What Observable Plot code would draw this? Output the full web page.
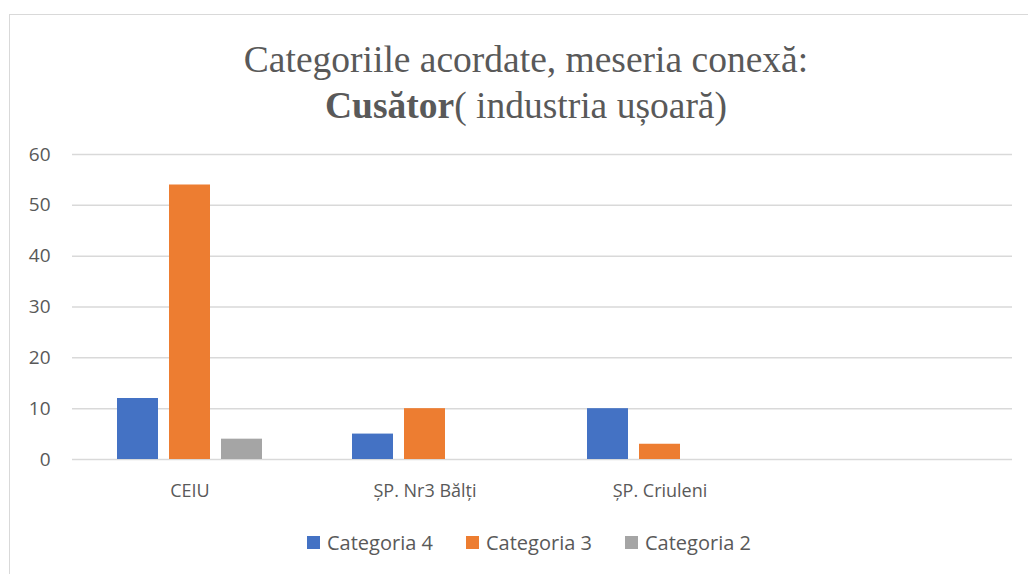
<!DOCTYPE html>
<html>
<head>
<meta charset="utf-8">
<script src="https://cdn.jsdelivr.net/npm/d3@7"></script>
<script src="https://cdn.jsdelivr.net/npm/@observablehq/plot@0.6"></script>
<style>
  html, body { margin: 0; padding: 0; background: #fff; }
  body { width: 1028px; height: 574px; position: relative; overflow: hidden; font-family: "Open Sans", sans-serif; }
  #frame { position: absolute; left: 9px; top: 14px; width: 1030px; height: 570px; border-top: 1.5px solid #d9d9d9; border-left: 1.5px solid #d9d9d9; }
  #title { position: absolute; left: 0; top: 37px; width: 1052px; text-align: center; font-family: "Liberation Serif", "Times New Roman", serif; font-size: 37.5px; line-height: 46px; color: #595959; }
  #chart { position: absolute; left: 0; top: 130px; }
  #legend { position: absolute; left: 307px; top: 529px; display: flex; gap: 0; font-size: 20px; color: #595959; }
  .item { display: flex; align-items: center; width: 159px; white-space: nowrap; }
  .sw { width: 13px; height: 13px; margin-right: 7px; flex: none; }
</style>
</head>
<body>
<div id="frame"></div>
<div id="title">Categoriile acordate, meseria conexă:<br><b>Cusător</b>( industria ușoară)</div>
<div id="chart"></div>
<div id="legend"></div>
<script>
const categories = ["CEIU", "ȘP. Nr3 Bălți", "ȘP. Criuleni", " "];
const series = ["Categoria 4", "Categoria 3", "Categoria 2"];
const categoria4 = [12, 5, 10, null];
const categoria3 = [54, 10, 3, null];
const categoria2 = [4, 0, 0, null];
const colors = ["#4472C4", "#ED7D31", "#A5A5A5"];
const yTicks = [0, 10, 20, 30, 40, 50, 60];

const seriesValues = [categoria4, categoria3, categoria2];
const data = [];
categories.forEach((c, i) => {
  series.forEach((s, j) => {
    const v = seriesValues[j][i];
    if (v != null) data.push({cat: c, series: s, value: v});
  });
});
const gridData = categories.flatMap(c => yTicks.map(t => ({cat: c, tick: t})));

const plot = Plot.plot({
  width: 1028,
  height: 380,
  marginLeft: 72,
  marginRight: 16,
  marginTop: 24,
  marginBottom: 51,
  style: {fontFamily: "Open Sans, sans-serif", color: "#595959", background: "transparent"},
  fx: {domain: categories, padding: 0, label: null, axis: null},
  x: {domain: series, paddingInner: 0.2075, paddingOuter: 0.821, axis: null},
  y: {domain: [0, 60], label: null, axis: null},
  color: {domain: series, range: colors},
  marks: [
    Plot.ruleY(gridData, {fx: "cat", y: "tick", stroke: "#d9d9d9", strokeWidth: 1.5}),
    Plot.axisY(yTicks, {tickSize: 0, tickPadding: 22, fontSize: 19, label: null, fill: "#595959"}),
    Plot.axisFx({anchor: "bottom", tickSize: 0, tickPadding: 25, fontSize: 18, label: null, fill: "#595959"}),
    Plot.barY(data, {fx: "cat", x: "series", y: "value", fill: "series"})
  ]
});
document.getElementById("chart").appendChild(plot);

const legend = document.getElementById("legend");
series.forEach((s, j) => {
  const item = document.createElement("div");
  item.className = "item";
  const sw = document.createElement("div");
  sw.className = "sw";
  sw.style.background = colors[j];
  const t = document.createElement("span");
  t.textContent = s;
  item.appendChild(sw);
  item.appendChild(t);
  legend.appendChild(item);
});
</script>
</body>
</html>
